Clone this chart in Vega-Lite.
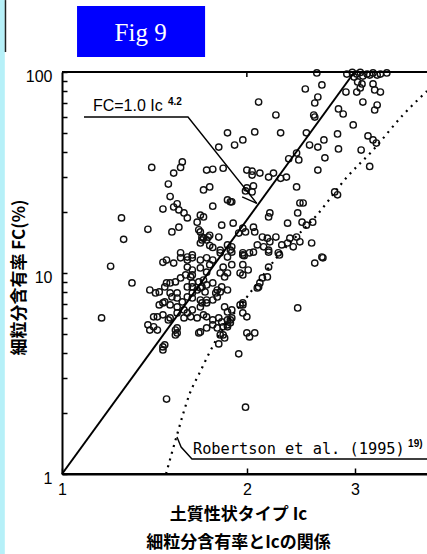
{
  "$schema": "https://vega.github.io/schema/vega-lite/v6.json",
  "width": 365,
  "height": 402,
  "autosize": "none",
  "padding": {"left": 62, "top": 72, "right": 0, "bottom": 80},
  "background": "white",
  "config": {"view": {"stroke": null}, "axis": {"grid": false}},
  "layer": [
    {
      "data": {"values": [
        {"Ic":2.60,"FC":98.9},{"Ic":2.91,"FC":97.7},{"Ic":2.97,"FC":99.5},{"Ic":2.99,"FC":94.4},{"Ic":3.02,"FC":97.7},{"Ic":3.06,"FC":99.5},{"Ic":3.09,"FC":95.5},{"Ic":3.14,"FC":97.7},{"Ic":3.17,"FC":96.6},{"Ic":3.21,"FC":98.9},{"Ic":3.26,"FC":96.6},{"Ic":3.30,"FC":97.7},{"Ic":3.38,"FC":98.9},{"Ic":3.03,"FC":89.2},{"Ic":3.08,"FC":87.2},{"Ic":3.06,"FC":83.3},{"Ic":3.21,"FC":87.2},{"Ic":3.23,"FC":81.4},{"Ic":3.30,"FC":79.5},{"Ic":2.90,"FC":79.5},{"Ic":3.02,"FC":79.5},{"Ic":2.49,"FC":82.3},{"Ic":2.65,"FC":86.2},{"Ic":2.61,"FC":75.1},{"Ic":2.58,"FC":70.1},{"Ic":2.57,"FC":61.1},{"Ic":2.58,"FC":59.7},{"Ic":2.09,"FC":70.9},{"Ic":2.23,"FC":61.1},{"Ic":2.82,"FC":65.5},{"Ic":2.87,"FC":61.8},{"Ic":3.09,"FC":70.9},{"Ic":3.26,"FC":68.5},{"Ic":3.23,"FC":64.7},{"Ic":2.98,"FC":54.5},{"Ic":1.86,"FC":49.8},{"Ic":1.91,"FC":43.3},{"Ic":1.97,"FC":45.9},{"Ic":2.06,"FC":50.3},{"Ic":2.27,"FC":49.8},{"Ic":2.50,"FC":49.8},{"Ic":2.53,"FC":43.3},{"Ic":2.61,"FC":42.3},{"Ic":2.67,"FC":45.9},{"Ic":2.81,"FC":49.2},{"Ic":2.82,"FC":41.4},{"Ic":2.68,"FC":37.4},{"Ic":2.61,"FC":32.5},{"Ic":3.07,"FC":40.9},{"Ic":3.15,"FC":48.1},{"Ic":3.21,"FC":45.9},{"Ic":3.25,"FC":44.3},{"Ic":3.17,"FC":33.9},{"Ic":1.80,"FC":42.3},{"Ic":1.72,"FC":32.5},{"Ic":1.76,"FC":32.8},{"Ic":1.83,"FC":33.2},{"Ic":2.00,"FC":32.5},{"Ic":2.04,"FC":30.7},{"Ic":2.10,"FC":31.4},{"Ic":2.17,"FC":30.0},{"Ic":2.21,"FC":31.4},{"Ic":2.27,"FC":29.6},{"Ic":2.32,"FC":30.0},{"Ic":2.34,"FC":37.0},{"Ic":2.41,"FC":39.5},{"Ic":2.43,"FC":36.5},{"Ic":2.41,"FC":26.8},{"Ic":2.00,"FC":26.5},{"Ic":2.05,"FC":27.1},{"Ic":2.04,"FC":25.3},{"Ic":1.76,"FC":21.5},{"Ic":1.88,"FC":22.6},{"Ic":1.86,"FC":23.1},{"Ic":1.68,"FC":19.4},{"Ic":1.70,"FC":19.0},{"Ic":2.44,"FC":22.3},{"Ic":2.47,"FC":22.3},{"Ic":2.18,"FC":19.9},{"Ic":2.17,"FC":19.0},{"Ic":2.42,"FC":19.9},{"Ic":2.46,"FC":17.9},{"Ic":2.50,"FC":17.3},{"Ic":2.56,"FC":17.9},{"Ic":2.33,"FC":17.7},{"Ic":2.78,"FC":25.3},{"Ic":2.81,"FC":24.5},{"Ic":1.82,"FC":17.3},{"Ic":1.90,"FC":17.7},{"Ic":2.05,"FC":16.9},{"Ic":2.06,"FC":16.0},{"Ic":1.99,"FC":16.0},{"Ic":2.12,"FC":15.1},{"Ic":2.16,"FC":14.9},{"Ic":2.23,"FC":15.1},{"Ic":2.18,"FC":14.3},{"Ic":2.13,"FC":13.5},{"Ic":2.08,"FC":13.8},{"Ic":2.17,"FC":13.0},{"Ic":2.28,"FC":13.8},{"Ic":2.35,"FC":14.9},{"Ic":2.41,"FC":15.1},{"Ic":2.38,"FC":13.5},{"Ic":2.55,"FC":14.1},{"Ic":2.65,"FC":12.0},{"Ic":2.25,"FC":12.6},{"Ic":1.97,"FC":12.6},{"Ic":2.02,"FC":12.6},{"Ic":1.70,"FC":14.9},{"Ic":1.73,"FC":15.1},{"Ic":1.80,"FC":15.1},{"Ic":1.68,"FC":14.1},{"Ic":1.76,"FC":13.4},{"Ic":1.81,"FC":13.0},{"Ic":1.94,"FC":15.8},
        {"Ic":1.40,"FC":33.5},{"Ic":1.57,"FC":35.7},{"Ic":1.56,"FC":33.5},{"Ic":1.52,"FC":31.4},{"Ic":1.49,"FC":27.7},{"Ic":1.70,"FC":25.9},{"Ic":1.74,"FC":26.8},{"Ic":1.89,"FC":22.6},{"Ic":1.99,"FC":25.6},{"Ic":2.04,"FC":32.1},{"Ic":1.50,"FC":24.0},{"Ic":1.46,"FC":20.8},{"Ic":1.54,"FC":22.1},{"Ic":1.52,"FC":21.3},{"Ic":1.55,"FC":20.6},{"Ic":1.58,"FC":19.9},{"Ic":1.60,"FC":18.8},{"Ic":1.25,"FC":18.8},{"Ic":1.26,"FC":14.7},{"Ic":1.38,"FC":16.5},{"Ic":1.51,"FC":16.0},{"Ic":1.55,"FC":16.9},{"Ic":1.66,"FC":17.9},{"Ic":1.67,"FC":16.4},{"Ic":1.69,"FC":14.6},{"Ic":1.74,"FC":13.7},{"Ic":1.97,"FC":16.7},{"Ic":1.98,"FC":12.2},{"Ic":1.86,"FC":13.8},{"Ic":1.89,"FC":13.5},{"Ic":1.88,"FC":13.0},{"Ic":1.46,"FC":11.3},{"Ic":1.20,"FC":10.8},{"Ic":1.30,"FC":8.92},{"Ic":1.16,"FC":5.98},{"Ic":1.68,"FC":16.0},{"Ic":1.69,"FC":15.1},{"Ic":1.72,"FC":14.6},{"Ic":1.74,"FC":15.4},
        {"Ic":1.39,"FC":8.23},{"Ic":1.42,"FC":7.96},{"Ic":1.44,"FC":8.05},{"Ic":1.47,"FC":8.52},{"Ic":1.50,"FC":8.92},{"Ic":1.53,"FC":9.03},{"Ic":1.56,"FC":9.45},{"Ic":1.59,"FC":9.78},{"Ic":1.62,"FC":9.56},{"Ic":1.63,"FC":8.92},{"Ic":1.67,"FC":9.03},{"Ic":1.70,"FC":9.23},{"Ic":1.44,"FC":6.94},{"Ic":1.47,"FC":7.18},{"Ic":1.51,"FC":7.60},{"Ic":1.54,"FC":7.51},{"Ic":1.57,"FC":7.18},{"Ic":1.60,"FC":7.60},{"Ic":1.63,"FC":7.96},{"Ic":1.66,"FC":8.23},{"Ic":1.69,"FC":8.52},{"Ic":1.72,"FC":8.72},{"Ic":1.76,"FC":8.92},{"Ic":1.38,"FC":5.52},{"Ic":1.39,"FC":5.20},{"Ic":1.43,"FC":6.05},{"Ic":1.46,"FC":6.19},{"Ic":1.50,"FC":5.98},{"Ic":1.54,"FC":6.33},{"Ic":1.58,"FC":5.98},{"Ic":1.62,"FC":6.05},{"Ic":1.66,"FC":5.98},{"Ic":1.70,"FC":6.19},{"Ic":1.48,"FC":11.6},{"Ic":1.52,"FC":11.2},{"Ic":1.56,"FC":11.9},{"Ic":1.60,"FC":11.6},{"Ic":1.63,"FC":11.9},{"Ic":1.68,"FC":11.6},{"Ic":1.72,"FC":11.9},{"Ic":1.76,"FC":11.6},{"Ic":1.83,"FC":10.7},{"Ic":1.84,"FC":9.56},{"Ic":1.86,"FC":10.0},{"Ic":1.89,"FC":11.0},{"Ic":1.79,"FC":8.23},{"Ic":1.79,"FC":7.60},{"Ic":1.82,"FC":8.52},{"Ic":1.86,"FC":8.23},{"Ic":1.84,"FC":6.78},{"Ic":1.89,"FC":6.55},{"Ic":1.97,"FC":7.10},{"Ic":2.00,"FC":6.05},{"Ic":1.97,"FC":6.33},{"Ic":1.79,"FC":5.33},{"Ic":1.83,"FC":5.40},{"Ic":1.88,"FC":5.84},{"Ic":1.81,"FC":4.92},{"Ic":1.54,"FC":5.33},{"Ic":1.54,"FC":5.03},{"Ic":1.67,"FC":5.03},{"Ic":1.72,"FC":5.33},{"Ic":1.48,"FC":2.36},{"Ic":1.46,"FC":4.14},{"Ic":1.46,"FC":4.29},{"Ic":1.47,"FC":4.39},{"Ic":1.41,"FC":5.40},{"Ic":1.43,"FC":5.20},{"Ic":1.41,"FC":6.05},{"Ic":1.49,"FC":5.84},{"Ic":1.53,"FC":5.20},{"Ic":1.53,"FC":4.92},{"Ic":1.68,"FC":5.09},{"Ic":1.76,"FC":5.52},{"Ic":1.48,"FC":8.92},{"Ic":1.63,"FC":9.78},{"Ic":1.46,"FC":7.10},{"Ic":1.50,"FC":6.94},{"Ic":1.54,"FC":6.78},{"Ic":1.58,"FC":6.55},{"Ic":1.60,"FC":6.33},{"Ic":1.63,"FC":6.55},{"Ic":1.68,"FC":6.78},{"Ic":1.72,"FC":7.10},{"Ic":1.76,"FC":7.34},{"Ic":1.50,"FC":7.96},{"Ic":1.54,"FC":7.96},{"Ic":1.63,"FC":7.51},{"Ic":1.68,"FC":7.34},{"Ic":1.60,"FC":8.52},{"Ic":1.63,"FC":8.52},{"Ic":1.68,"FC":8.42},{"Ic":1.56,"FC":12.6},{"Ic":1.60,"FC":12.0},{"Ic":1.63,"FC":12.3},{"Ic":1.60,"FC":10.7},{"Ic":1.63,"FC":10.35},{"Ic":1.68,"FC":10.6},{"Ic":1.72,"FC":10.1},{"Ic":1.74,"FC":11.0},{"Ic":1.81,"FC":12.6},{"Ic":1.86,"FC":12.0},{"Ic":1.89,"FC":12.7},{"Ic":1.97,"FC":12.3},{"Ic":2.05,"FC":12.7},{"Ic":2.17,"FC":12.7},{"Ic":2.26,"FC":12.3},{"Ic":2.58,"FC":11.2},{"Ic":2.66,"FC":11.9},{"Ic":1.97,"FC":9.78},{"Ic":2.01,"FC":10.35},{"Ic":1.95,"FC":10.0},{"Ic":1.81,"FC":10.0},{"Ic":2.12,"FC":9.45},{"Ic":2.16,"FC":9.56},{"Ic":2.17,"FC":10.7},{"Ic":2.09,"FC":8.52},{"Ic":2.10,"FC":8.92},{"Ic":1.78,"FC":7.96},{"Ic":1.81,"FC":8.05},{"Ic":1.71,"FC":8.05},{"Ic":1.72,"FC":7.34},{"Ic":1.69,"FC":7.10},{"Ic":1.86,"FC":6.40},{"Ic":1.97,"FC":6.94},{"Ic":2.42,"FC":6.70},{"Ic":1.72,"FC":6.05},{"Ic":1.76,"FC":5.84},{"Ic":1.80,"FC":5.98},{"Ic":1.82,"FC":5.71},{"Ic":1.86,"FC":5.84},{"Ic":1.89,"FC":5.98},{"Ic":1.88,"FC":5.65},{"Ic":1.86,"FC":5.40},{"Ic":1.83,"FC":4.92},{"Ic":1.80,"FC":4.44},{"Ic":2.00,"FC":5.03},{"Ic":2.02,"FC":4.81},{"Ic":2.06,"FC":5.03},{"Ic":1.94,"FC":3.96},{"Ic":1.99,"FC":2.15},{"Ic":1.97,"FC":11.0},{"Ic":2.08,"FC":8.42},{"Ic":1.95,"FC":6.94},{"Ic":2.33,"FC":14.1},{"Ic":2.44,"FC":14.3},{"Ic":1.86,"FC":5.52},{"Ic":1.84,"FC":4.75}
      ]},
      "mark": {"type": "point", "shape": "circle", "filled": false, "stroke": "#111111", "strokeWidth": 1.4, "size": 40, "opacity": 1},
      "encoding": {
        "x": {
          "field": "Ic", "type": "quantitative",
          "scale": {"type": "log", "domain": [1, 3.93], "nice": false},
          "axis": {
            "orient": "bottom", "values": [1, 2, 3], "format": "d", "domain": true,
            "labelFlush": false, "labelOverlap": false,
            "tickSize": -6, "tickWidth": 1.5, "tickColor": "black",
            "domainColor": "black", "domainWidth": 2,
            "labelFont": "Liberation Sans", "labelFontSize": 16, "labelColor": "black", "labelPadding": 13,
            "title": ["土質性状タイプ Ic", "細粒分含有率とIcの関係"],
            "titleFont": "Noto Sans CJK JP", "titleFontSize": 17, "titleFontWeight": "bold", "titleColor": "black",
            "titleAnchor": null, "titleX": 176, "titleY": 32, "titleAlign": "center", "titleBaseline": "top", "titleLineHeight": 28
          }
        },
        "y": {
          "field": "FC", "type": "quantitative",
          "scale": {"type": "log", "domain": [1, 100], "nice": false},
          "axis": {
            "orient": "left", "domain": true,
            "values": [1, 2, 3, 4, 5, 6, 7, 8, 9, 10, 20, 30, 40, 50, 60, 70, 80, 90, 100],
            "format": "d",
            "labelExpr": "datum.value == 1 || datum.value == 10 || datum.value == 100 ? datum.label : ''",
            "labelOverlap": false, "labelFlush": false,
            "tickSize": -5, "tickWidth": 1.5, "tickColor": "black",
            "domainColor": "black", "domainWidth": 2,
            "labelFont": "Liberation Sans", "labelFontSize": 16, "labelColor": "black", "labelPadding": 15, "labelOffset": 4,
            "title": "細粒分含有率 FC(%)",
            "titleFont": "Noto Sans CJK JP", "titleFontSize": 17, "titleFontWeight": "bold", "titleColor": "black",
            "titleAnchor": null, "titleX": -43, "titleY": 205, "titleAngle": -90, "titleAlign": "center", "titleBaseline": "middle"
          }
        }
      }
    },
    {
      "data": {"values": [{"Ic": 0.79, "Ic2": 0.807, "FC": 230, "FC2": 0.39}]},
      "mark": {"type": "rect", "fill": "#B6F0F8"},
      "encoding": {
        "x": {"field": "Ic", "type": "quantitative"},
        "x2": {"field": "Ic2"},
        "y": {"field": "FC", "type": "quantitative"},
        "y2": {"field": "FC2"}
      }
    },
    {
      "data": {"values": [{"Ic": 0.809, "FC": 228, "FC2": 125.7}]},
      "mark": {"type": "rule", "color": "#222222", "strokeWidth": 1.5},
      "encoding": {
        "x": {"field": "Ic", "type": "quantitative"},
        "y": {"field": "FC", "type": "quantitative"},
        "y2": {"field": "FC2"}
      }
    },
    {
      "data": {"values": [{"Ic": 1.058, "Ic2": 1.71, "FC": 118.7, "FC2": 213}]},
      "mark": {"type": "rect", "fill": "#0000FF"},
      "encoding": {
        "x": {"field": "Ic", "type": "quantitative"},
        "x2": {"field": "Ic2"},
        "y": {"field": "FC", "type": "quantitative"},
        "y2": {"field": "FC2"}
      }
    },
    {
      "data": {"values": [{"Ic": 1.343, "FC": 143.1, "label": "Fig 9"}]},
      "mark": {"type": "text", "font": "Liberation Serif", "fontSize": 25, "color": "white", "align": "center", "baseline": "alphabetic"},
      "encoding": {
        "x": {"field": "Ic", "type": "quantitative"},
        "y": {"field": "FC", "type": "quantitative"},
        "text": {"field": "label"}
      }
    },
    {
      "data": {"values": [
        {"grp": "top", "Ic": 1, "FC": 100}, {"grp": "top", "Ic": 3.93, "FC": 100},
        {"grp": "bottom", "Ic": 1, "FC": 1}, {"grp": "bottom", "Ic": 3.93, "FC": 1}
      ]},
      "mark": {"type": "line", "color": "black", "strokeWidth": 2},
      "encoding": {
        "x": {"field": "Ic", "type": "quantitative"},
        "y": {"field": "FC", "type": "quantitative"},
        "detail": {"field": "grp"}
      }
    },
    {
      "data": {"values": [{"Ic": 2, "FC": 100, "FC2": 94.4}]},
      "mark": {"type": "rule", "color": "black", "strokeWidth": 1.5},
      "encoding": {
        "x": {"field": "Ic", "type": "quantitative"},
        "y": {"field": "FC", "type": "quantitative"},
        "y2": {"field": "FC2"}
      }
    },
    {
      "data": {"values": [{"Ic": 1, "FC": 1}, {"Ic": 2.994, "FC": 100}]},
      "mark": {"type": "line", "color": "black", "strokeWidth": 2},
      "encoding": {
        "x": {"field": "Ic", "type": "quantitative"},
        "y": {"field": "FC", "type": "quantitative"}
      }
    },
    {
      "data": {"values": [
        {"Ic": 1.477, "FC": 1.0}, {"Ic": 1.539, "FC": 1.563}, {"Ic": 1.616, "FC": 2.53}, {"Ic": 1.678, "FC": 3.22},
        {"Ic": 1.782, "FC": 4.64}, {"Ic": 2.024, "FC": 7.96}, {"Ic": 2.240, "FC": 12.0}, {"Ic": 2.611, "FC": 19.7},
        {"Ic": 2.911, "FC": 30.0}, {"Ic": 3.210, "FC": 40.9}, {"Ic": 3.591, "FC": 61.1}, {"Ic": 3.93, "FC": 80.4}
      ]},
      "mark": {"type": "line", "color": "black", "strokeWidth": 2.2, "strokeDash": [2, 5], "interpolate": "monotone"},
      "encoding": {
        "x": {"field": "Ic", "type": "quantitative"},
        "y": {"field": "FC", "type": "quantitative"}
      }
    },
    {
      "data": {"values": [
        {"grp": "a", "Ic": 1.086, "FC": 59.7}, {"grp": "a", "Ic": 1.604, "FC": 59.7}, {"grp": "a", "Ic": 2.076, "FC": 22.2},
        {"grp": "b", "Ic": 1.965, "FC": 23.9}, {"grp": "b", "Ic": 2.076, "FC": 22.2},
        {"grp": "c", "Ic": 1.539, "FC": 1.528}, {"grp": "c", "Ic": 1.563, "FC": 1.362}, {"grp": "c", "Ic": 1.628, "FC": 1.187}, {"grp": "c", "Ic": 3.93, "FC": 1.187}
      ]},
      "mark": {"type": "line", "color": "black", "strokeWidth": 1.4},
      "encoding": {
        "x": {"field": "Ic", "type": "quantitative"},
        "y": {"field": "FC", "type": "quantitative"},
        "detail": {"field": "grp"}
      }
    },
    {
      "data": {"values": [{"Ic": 1.123, "FC": 64.2, "label": "FC=1.0 Ic"}]},
      "mark": {"type": "text", "font": "Liberation Sans", "fontSize": 16, "color": "black", "align": "left", "baseline": "alphabetic"},
      "encoding": {
        "x": {"field": "Ic", "type": "quantitative"},
        "y": {"field": "FC", "type": "quantitative"},
        "text": {"field": "label"}
      }
    },
    {
      "data": {"values": [{"Ic": 1.488, "FC": 68.5, "label": "4.2"}, {"Ic": 3.661, "FC": 1.362, "label": "19)"}]},
      "mark": {"type": "text", "font": "Liberation Sans", "fontSize": 10, "fontWeight": "bold", "color": "black", "align": "left", "baseline": "alphabetic"},
      "encoding": {
        "x": {"field": "Ic", "type": "quantitative"},
        "y": {"field": "FC", "type": "quantitative"},
        "text": {"field": "label"}
      }
    },
    {
      "data": {"values": [{"Ic": 1.634, "FC": 1.257, "label": "Robertson et al. (1995)"}]},
      "mark": {"type": "text", "font": "DejaVu Sans Mono", "fontSize": 15.3, "color": "black", "align": "left", "baseline": "alphabetic"},
      "encoding": {
        "x": {"field": "Ic", "type": "quantitative"},
        "y": {"field": "FC", "type": "quantitative"},
        "text": {"field": "label"}
      }
    }
  ]
}
